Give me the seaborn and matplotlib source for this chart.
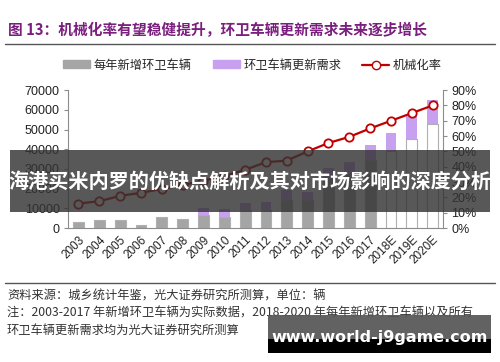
import numpy as np
import pandas as pd
import matplotlib
matplotlib.use("Agg")
import matplotlib.pyplot as plt
import seaborn as sns
from matplotlib.patches import Patch, Rectangle
from matplotlib.lines import Line2D
from matplotlib.ticker import FuncFormatter, FixedLocator

# --- datos ---
years = ['2003', '2004', '2005', '2006', '2007', '2008', '2009', '2010', '2011',
         '2012', '2013', '2014', '2015', '2016', '2017', '2018E', '2019E', '2020E']
new_vehicles = [3300, 4000, 4000, 1500, 5400, 4600, 6600, 5600, 9100,
                9100, 14000, 14200, 25500, 28000, 34500, 39000, 45000, 53000]
renewal = [0, 0, 0, 0, 0, 0, 3400, 4200, 3700,
           4200, 5300, 4200, 4800, 5600, 7600, 9400, 11800, 11800]
mech_rate = [0.16, 0.175, 0.21, 0.23, 0.255, 0.28, 0.31, 0.34, 0.38,
             0.43, 0.44, 0.50, 0.555, 0.595, 0.65, 0.70, 0.75, 0.80]
left_ticks = [0, 10000, 20000, 30000, 40000, 50000, 60000, 70000]
right_ticks = [0, 0.1, 0.2, 0.3, 0.4, 0.5, 0.6, 0.7, 0.8, 0.9]

legend_labels = ['每年新增环卫车辆', '环卫车辆更新需求', '机械化率']
title = '图 13：机械化率有望稳健提升，环卫车辆更新需求未来逐步增长'
source = '资料来源：城乡统计年鉴，光大证券研究所测算，单位：辆'
note1 = '注：2003-2017 年新增环卫车辆为实际数据，2018-2020 年每年新增环卫车辆以及所有'
note2 = '环卫车辆更新需求均为光大证券研究所测算'
banner = '海港买米内罗的优缺点解析及其对市场影响的深度分析'
site = 'www.world-j9game.com'

sns.set_style("white")
plt.rcParams['font.family'] = ['Liberation Sans', 'Noto Sans CJK SC', 'DejaVu Sans']
cjk = ['Noto Sans CJK SC', 'DejaVu Sans']

gray = '#A5A5A5'
purple = '#C7A0F0'
red = '#C00000'
spine_c = '#8C8C8C'

df = pd.DataFrame({'year': years, 'new': new_vehicles, 'renew': renewal, 'rate': mech_rate})
df['total'] = df['new'] + df['renew']
bar_colors = [gray if not y.endswith('E') else 'white' for y in years]

fig = plt.figure(figsize=(5, 3.62), dpi=100)
ax = fig.add_axes([0.136, 0.370, 0.75, 0.381])

# barras apiladas: total (morado) y encima los nuevos (gris)
sns.barplot(data=df, x='year', y='total', color=purple, width=0.52,
            saturation=1, ax=ax, linewidth=0)
sns.barplot(data=df, x='year', y='new', hue='year', palette=bar_colors, legend=False,
            width=0.52, saturation=1, ax=ax, edgecolor='#B0B0B0', linewidth=0.8)

ax.set_xlim(-0.5, 17.5)
ax.set_ylim(0, 70000)
ax.set_yticks(left_ticks)
ax.set_yticklabels([str(v) for v in left_ticks], fontsize=9, color='#222222')
ax.set_xticks(range(len(years)))
ax.set_xticklabels(years, rotation=45, ha='right', rotation_mode='anchor',
                   fontsize=8.5, color='#222222')
ax.xaxis.set_minor_locator(FixedLocator(np.arange(-0.5, 18, 1)))
ax.tick_params(axis='x', which='major', length=0, pad=4)
ax.tick_params(axis='x', which='minor', length=3, color=spine_c, direction='out')
ax.tick_params(axis='y', length=3, color=spine_c, direction='out', pad=3)
ax.set_xlabel('')
ax.set_ylabel('')
for s in ['top', 'right']:
    ax.spines[s].set_visible(False)
for s in ['left', 'bottom']:
    ax.spines[s].set_color(spine_c)
    ax.spines[s].set_linewidth(0.8)

# linea de mecanizacion en eje derecho
ax2 = ax.twinx()
sns.lineplot(x=np.arange(len(years)), y=df['rate'], ax=ax2, color=red, linewidth=1.6,
             marker='o', markersize=6, markerfacecolor='white',
             markeredgecolor=red, markeredgewidth=1.3)
ax2.set_ylim(0, 0.9)
ax2.set_yticks(right_ticks)
ax2.yaxis.set_major_formatter(FuncFormatter(lambda v, p: f'{v*100:.0f}%'))
ax2.tick_params(axis='y', length=3, color=spine_c, direction='out', labelsize=9,
                labelcolor='#222222', pad=3)
ax2.set_ylabel('')
for s in ['top', 'left', 'bottom']:
    ax2.spines[s].set_visible(False)
ax2.spines['right'].set_color(spine_c)
ax2.spines['right'].set_linewidth(0.8)

# leyenda
handles = [Patch(color=gray), Patch(color=purple),
           Line2D([0], [0], color=red, lw=1.6, marker='o', markersize=6,
                  markerfacecolor='white', markeredgecolor=red)]
fig.legend(handles, legend_labels, loc='center', bbox_to_anchor=(0.505, 0.82), ncol=3,
           frameon=False, prop={'family': cjk, 'size': 8.8}, handlelength=2.2,
           handleheight=0.6, columnspacing=1.7, handletextpad=0.3)

# titulo y notas
fig.text(0.016, 0.917, title, fontsize=10.6, fontweight='bold', color='#7B1F7F',
         va='center', ha='left', family=cjk)
fig.add_artist(Line2D([0.01, 0.99], [0.878, 0.878], color='#555555', lw=1))
fig.add_artist(Line2D([0.01, 0.99], [0.218, 0.218], color='#555555', lw=1))
fig.text(0.014, 0.182, source, fontsize=8.8, color='#333333', va='center', family=cjk)
fig.text(0.014, 0.135, note1, fontsize=8.8, color='#333333', va='center', family=cjk)
fig.text(0.014, 0.088, note2, fontsize=8.8, color='#333333', va='center', family=cjk)

# franja superpuesta
fig.add_artist(Rectangle((0.02, 0.414), 0.96, 0.172, transform=fig.transFigure,
                         facecolor='#333333', alpha=0.82, edgecolor='none', zorder=10))
fig.text(0.5, 0.5, banner, fontsize=14.5, fontweight='bold', color='white',
         ha='center', va='center', family=cjk, zorder=11)

# caja de la web
fig.add_artist(Rectangle((0.536, 0.0635), 0.446, 0.067, transform=fig.transFigure,
                         facecolor='#555555', alpha=0.92, edgecolor='none', zorder=10))
fig.add_artist(Rectangle((0.536, 0.025), 0.446, 0.0385, transform=fig.transFigure,
                         facecolor='black', edgecolor='none', zorder=10))
fig.text(0.759, 0.069, site, fontsize=11.5, fontweight='bold', color='white',
         ha='center', va='center', family=['DejaVu Sans'], zorder=11)

fig.savefig('out.png', dpi=100)
